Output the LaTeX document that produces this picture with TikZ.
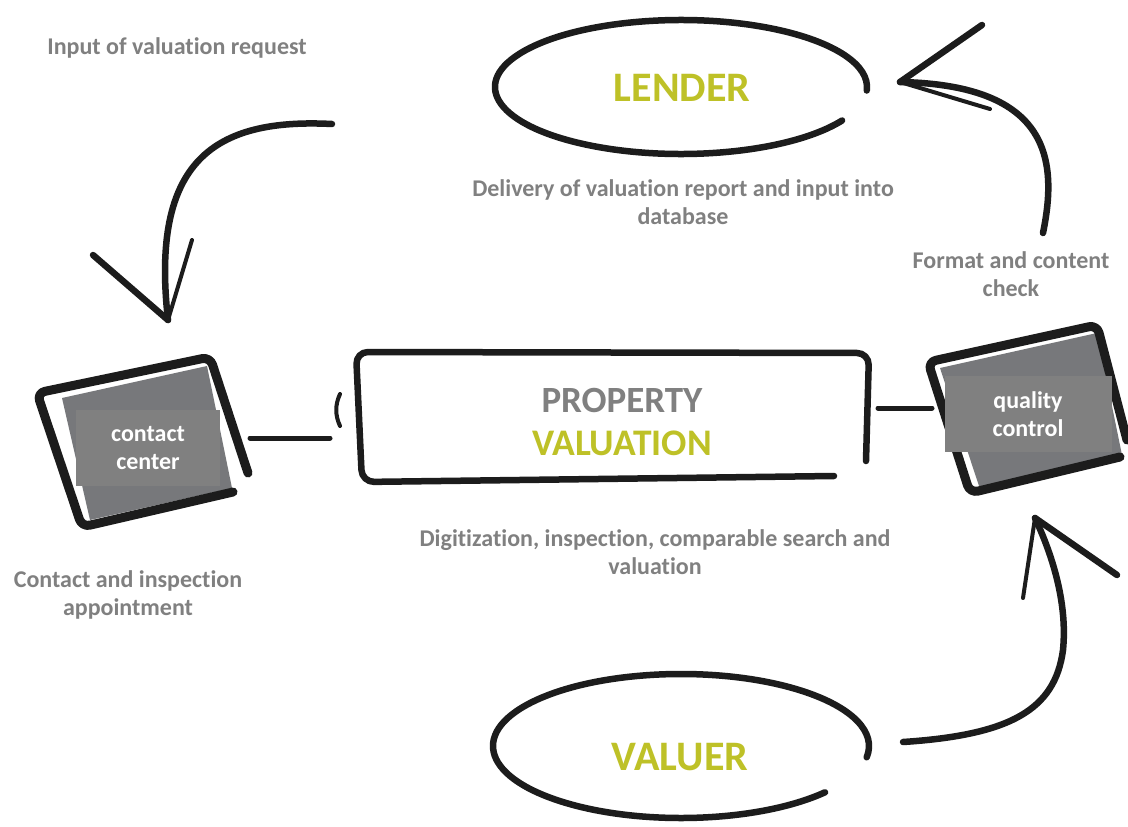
\documentclass[tikz,border=0pt]{standalone}
\usepackage{fontspec}
\setmainfont{Carlito}[Ligatures=NoCommon]
\usepackage{xcolor}
\usepackage{tikz}

\definecolor{txtgray}{RGB}{128,128,128}
\definecolor{valgreen}{RGB}{190,193,39}
\definecolor{screengray}{RGB}{119,120,123}
\definecolor{boxgray}{RGB}{128,128,128}
\definecolor{ink}{RGB}{28,28,28}

\tikzset{
    pen/.style={ink, line width=6.5pt, line cap=round, line join=round},
    thinpen/.style={ink, line width=4pt, line cap=round, line join=round},
    caption/.style={font=\fontsize{24}{27.5}\selectfont\bfseries, text=txtgray, align=center, inner sep=0pt},
    screenlabel/.style={fill=boxgray, text=white, minimum width=144pt, minimum height=76pt, inner sep=0pt,
        font=\fontsize{24}{27.5}\selectfont\bfseries, align=center},
    bigword/.style={font=\fontsize{42}{44}\selectfont\bfseries, text=valgreen, inner sep=0pt}
}

\begin{document}
\begin{tikzpicture}[x=1pt, y=-1pt]
    \fill[white] (0,0) rectangle (1128,827);
    \useasboundingbox (0,0) rectangle (1128,827);

    % texts
    \node[caption] (request) at (177,48) {Input of valuation request};
    \node[caption] (delivery) at (683,202) {Delivery of valuation report and input into\\database};
    \node[caption] (check) at (1011,274) {Format and content\\check};
    \node[caption] (digitize) at (655,552) {Digitization, inspection, comparable search and\\valuation};
    \node[caption] (appoint) at (128,595) {Contact and inspection\\appointment};

    % lender and valuer
    \node[bigword] (lender) at (682,88) {LENDER};
    \node[bigword] (valuer) at (680,757) {VALUER};
    \coordinate (lenderRing) at (681,87);
    \coordinate (valuerRing) at (681,746);
    \draw[pen] ([shift={(lenderRing)}]30:186 and 67) arc[start angle=30, end angle=363, x radius=186, y radius=67];
    \draw[pen] ([shift={(valuerRing)}]40:188 and 72) arc[start angle=40, end angle=369, x radius=188, y radius=72];

    % contact center screen
    \fill[screengray] (62,398) -- (207,366) -- (232,488) -- (90,520) -- cycle;
    \draw[pen, line width=9pt, rounded corners=8pt] (233,492) -- (82,527) -- (37,393) -- (210,357) -- (248,473);
    \node[screenlabel] (contact) at (148,448) {contact\\center};

    % quality control screen
    \fill[screengray] (940,368) -- (1097,333) -- (1122,455) -- (980,489) -- cycle;
    \draw[pen, line width=9pt, rounded corners=8pt] (1120,457) -- (970,493) -- (928,362) -- (1097,325) -- (1127,440);
    \node[screenlabel, minimum width=167pt] (quality) at (1028,414) {quality\\control};

    % property valuation box
    \draw[pen, rounded corners=12pt] (834,476) -- (362,482) -- (356,352) -- (869,353) -- (866,461);
    \node[bigword, font=\fontsize{37}{44}\selectfont\bfseries, text=txtgray] (property) at (622,400) {PROPERTY};
    \node[bigword, font=\fontsize{37.5}{44}\selectfont\bfseries] (valuation) at (622,443) {VALUATION};
    \draw[thinpen] (340,394) .. controls (335,405) and (335,415) .. (340,426);

    % links between screens and box
    \coordinate (linkA) at (250,438);
    \coordinate (linkB) at (330,438);
    \coordinate (linkC) at (878,408);
    \coordinate (linkD) at (932,408);
    \draw[thinpen, line width=5pt] (linkA) -- (linkB);
    \draw[thinpen, line width=5pt] (linkC) -- (linkD);

    % arrow to contact center
    \coordinate (inTail) at (332,124);
    \coordinate (inTip) at (168,320);
    \draw[pen] (inTail) .. controls (215,118) and (150,160) .. (inTip);
    \draw[pen] (93,255) -- (inTip);
    \draw[thinpen] (192,240) -- (inTip);

    % arrow to lender
    \coordinate (upTail) at (1043,233);
    \coordinate (upTip) at (900,82);
    \draw[pen] (upTail) .. controls (1058,160) and (1050,85) .. (upTip);
    \draw[pen] (982,25) -- (upTip);
    \draw[thinpen] (990,109) -- (upTip);

    % arrow to quality control
    \coordinate (qcTail) at (903,742);
    \coordinate (qcBend) at (1063,650);
    \coordinate (qcTip) at (1035,518);
    \draw[pen] (qcTail) .. controls (1010,735) and (1055,710) .. (qcBend) .. controls (1068,600) and (1050,550) .. (qcTip);
    \draw[pen] (1117,575) -- (qcTip);
    \draw[thinpen] (1023,598) -- (qcTip);
\end{tikzpicture}
\end{document}
